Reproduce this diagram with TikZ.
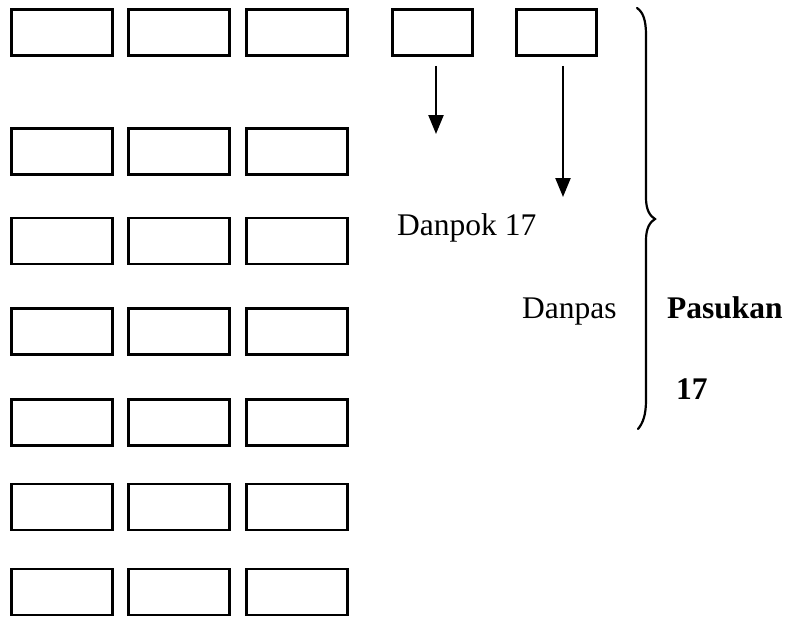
\documentclass[tikz,border=0pt]{standalone}
\usepackage{fontspec}
\setmainfont{Liberation Serif}
\usetikzlibrary{arrows.meta}
\tikzset{
  cell/.style={draw, line width=2.6pt, minimum width=101pt, minimum height=46pt, inner sep=0pt, outer sep=0pt},
  small/.style={draw, line width=2.3pt, minimum width=80pt, minimum height=46pt, inner sep=0pt, outer sep=0pt},
  arr/.style={line width=2.3pt, -{Triangle[length=19pt,width=15pt]}},
  lbl/.style={anchor=base west, inner sep=0pt, font=\fontsize{31.5}{36}\selectfont},
  brace/.style={line width=2.2pt, line cap=round}
}
\begin{document}
\begin{tikzpicture}[x=1pt,y=-1pt]
\useasboundingbox (0,0) rectangle (795,618);
% grid of boxes
\foreach \r/\y in {1/32.5,2/151.5,3/241,4/331.5,5/422.5,6/507,7/592}{
  \foreach \c/\x in {1/62,2/179,3/297}{
    \node[cell] (b\r\c) at (\x,\y) {};
  }
}
% right small boxes
\node[small] (s1) at (432.5,32.5) {};
\node[small] (s2) at (556.5,32.5) {};
% arrows
\coordinate (a1s) at (436,66);
\coordinate (a1e) at (436,134);
\coordinate (a2s) at (563,66);
\coordinate (a2e) at (563,197);
\draw[arr] (a1s) -- (a1e);
\draw[arr] (a2s) -- (a2e);
% labels
\node[lbl] (danpok) at (397,235) {Danpok 17};
\node[lbl] (danpas) at (522,318) {Danpas};
\node[lbl] (pasukan) at (667,318) {\bfseries Pasukan};
\node[lbl] (n17) at (676,399) {\bfseries 17};
% brace
\draw[brace] (637,8) .. controls (643,12) and (646,20) .. (646,35) -- (646,198)
  .. controls (646,210) and (650,216) .. (655,219)
  .. controls (650,222) and (646,228) .. (646,240) -- (646,400)
  .. controls (646,415) and (643,423) .. (638,429);
\end{tikzpicture}
\end{document}
